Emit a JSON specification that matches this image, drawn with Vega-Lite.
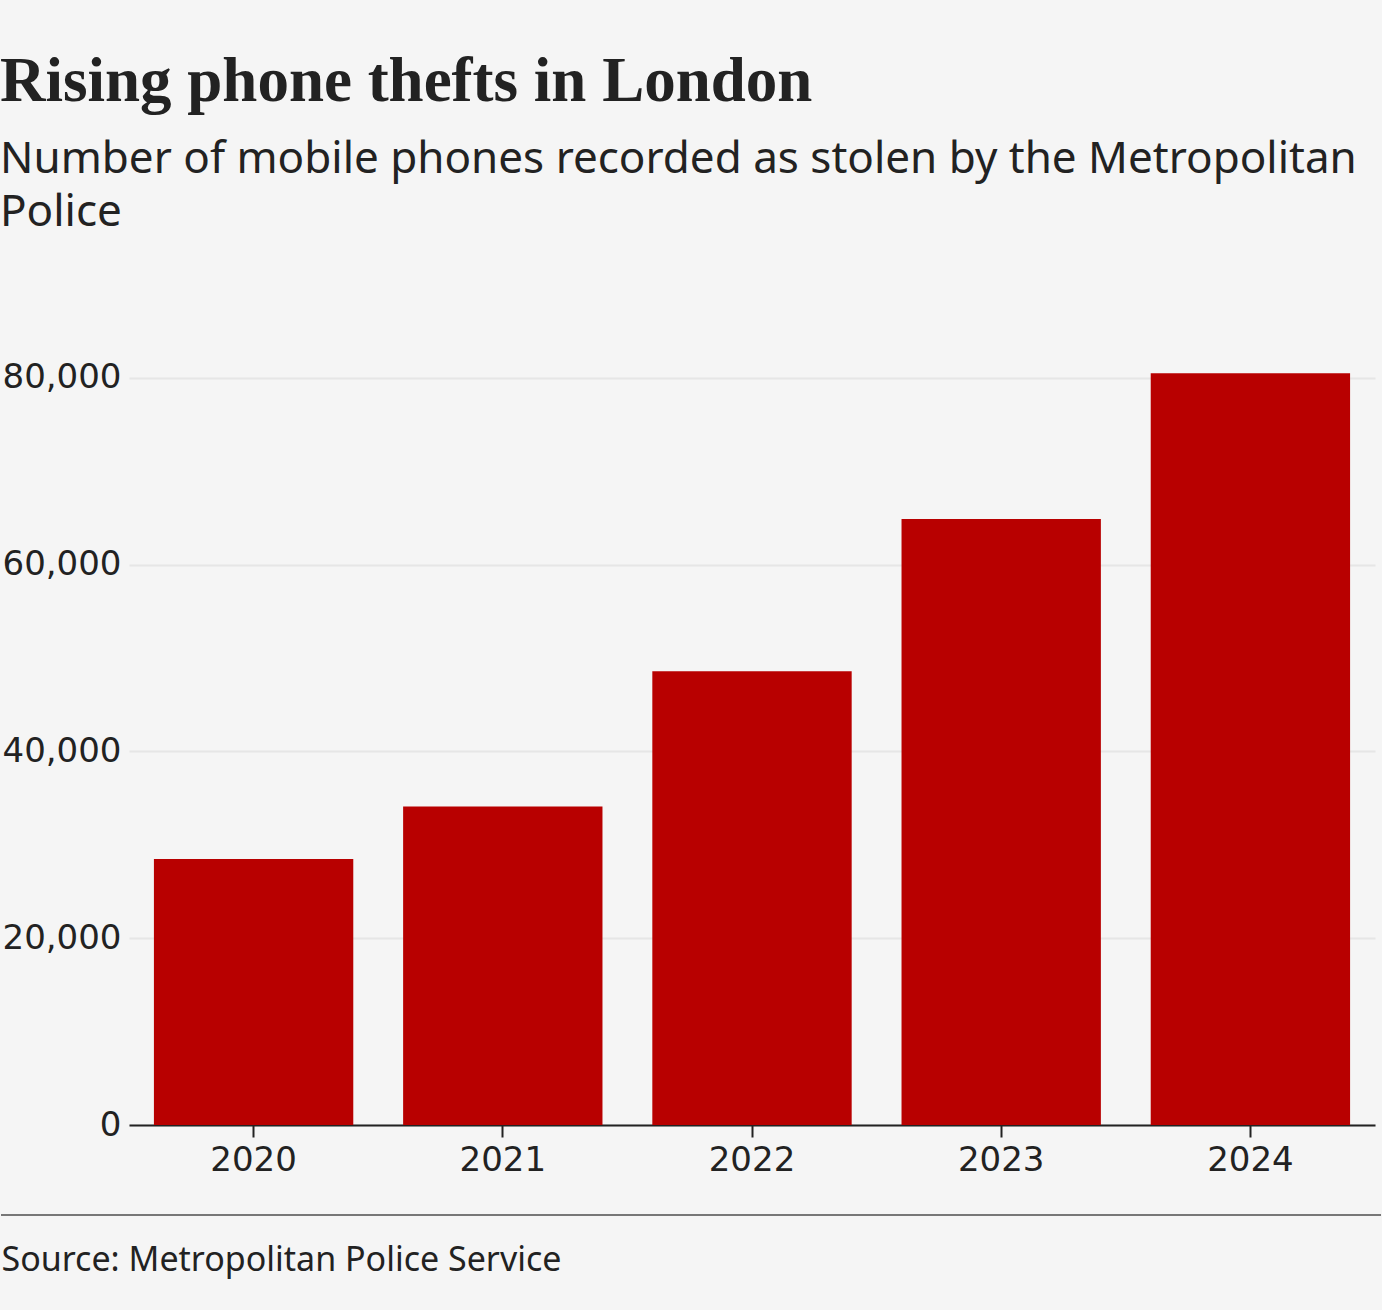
{
  "$schema": "https://vega.github.io/schema/vega-lite/v6.json",
  "background": "#f5f5f5",
  "padding": {"left": 0, "top": 50, "right": 0, "bottom": 40},
  "width": 1246,
  "height": 752,
  "title": {
    "text": "Rising phone thefts in London",
    "subtitle": ["Number of mobile phones recorded as stolen by the Metropolitan", "Police"],
    "anchor": "start",
    "frame": "bounds",
    "font": "Liberation Serif",
    "fontSize": 63,
    "fontWeight": "bold",
    "color": "#222222",
    "subtitleFont": "Noto Sans",
    "subtitleFontSize": 44,
    "subtitleColor": "#222222",
    "subtitleLineHeight": 53,
    "subtitlePadding": 24,
    "offset": 126
  },
  "data": {
    "values": [
      {"year": "2020", "phones": 28500},
      {"year": "2021", "phones": 34100},
      {"year": "2022", "phones": 48600},
      {"year": "2023", "phones": 64900},
      {"year": "2024", "phones": 80500}
    ]
  },
  "layer": [
    {
      "mark": {"type": "bar", "color": "#b80000"},
      "encoding": {
        "x": {
          "field": "year",
          "type": "ordinal",
          "scale": {"paddingInner": 0.2, "paddingOuter": 0.1},
          "axis": {
            "title": "Source: Metropolitan Police Service",
            "titleFont": "Noto Sans",
            "titleFontSize": 34,
            "titleFontWeight": "normal",
            "titleColor": "#222222",
            "titleAnchor": "start",
            "titleAlign": "left",
            "titleBaseline": "alphabetic",
            "titleX": -128,
            "titleY": 145,
            "labelAngle": 0,
            "labelFont": "DejaVu Sans",
            "labelFontSize": 34,
            "labelColor": "#222222",
            "labelPadding": 6,
            "tickSize": 12,
            "tickWidth": 2,
            "tickColor": "#222222",
            "domainColor": "#222222",
            "domainWidth": 2,
            "grid": false
          }
        },
        "y": {
          "field": "phones",
          "type": "quantitative",
          "scale": {"domain": [0, 80535], "nice": false},
          "axis": {
            "title": null,
            "values": [0, 20000, 40000, 60000, 80000],
            "format": ",d",
            "labelFont": "DejaVu Sans",
            "labelFontSize": 34,
            "labelColor": "#222222",
            "labelPadding": 8,
            "ticks": false,
            "domain": false,
            "grid": true,
            "gridColor": "#e6e6e6",
            "gridWidth": 2
          }
        }
      }
    },
    {
      "mark": {"type": "rule", "color": "#777777", "strokeWidth": 2},
      "encoding": {
        "x": {"value": -128},
        "x2": {"value": 1252},
        "y": {"value": 842}
      }
    }
  ],
  "config": {
    "view": {"stroke": null}
  }
}
